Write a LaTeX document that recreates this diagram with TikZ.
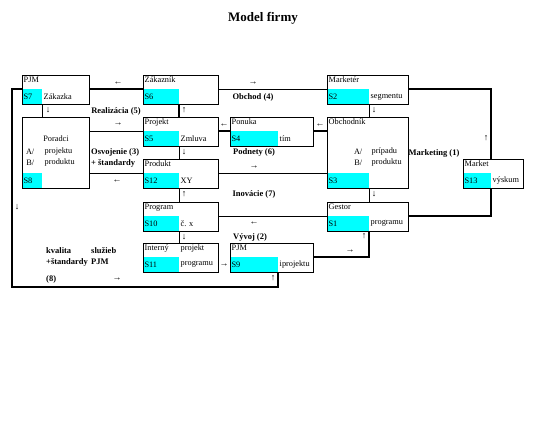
\documentclass[tikz,border=0pt]{standalone}
\usepackage{fontspec}
\setmainfont{Liberation Serif}
\definecolor{cellcyan}{RGB}{0,255,255}
\tikzset{
  box/.style={draw, line width=0.8pt, anchor=south west, minimum height=29,
    inner sep=0pt, outer sep=0pt},
  cell/.style={fill=cellcyan, anchor=south west, minimum height=14.5, inner xsep=1.5pt,
    inner ysep=0pt, outer sep=0pt, align=left, font=\fontsize{8.3}{9}\selectfont},
  lbl/.style={anchor=north west, inner sep=1.5pt, font=\fontsize{8.3}{9}\selectfont},
}

\begin{document}
\begin{tikzpicture}[
  x=1pt, y=-1pt,
  thin line/.style={line width=0.6pt},
  thick line/.style={line width=2pt},
  tag/.style={inner sep=0pt, font=\bfseries\fontsize{8.5}{10}\selectfont},
  arr/.style={inner sep=0pt, font=\fontsize{9}{10}\selectfont}
]
\useasboundingbox (0,0) rectangle (533,446);
\node[font=\bfseries\fontsize{13}{15}\selectfont] (title) at (263,18) {Model firmy};

% row 1
\node[cell, text width=17pt] (c7) at (22,104) {S7};
\node[box, minimum width=67] (s7) at (c7.south west) {};
\node[lbl] (s7t) at (s7.north west) {PJM};
\node[lbl, anchor=west] (s7r) at (c7.east) {Zákazka};

\node[cell, text width=33pt] (c6) at (143,104) {S6};
\node[box, minimum width=75] (s6) at (c6.south west) {};
\node[lbl] (s6t) at (s6.north west) {Zákazník};

\node[cell, text width=39pt] (c2) at (327,104) {S2};
\node[box, minimum width=81] (s2) at (c2.south west) {};
\node[lbl] (s2t) at (s2.north west) {Marketér};
\node[lbl, anchor=west] (s2r) at (c2.east) {segmentu};

% row 2
\node[cell, text width=17pt] (c8) at (22,188) {S8};
\node[box, minimum width=67, minimum height=71] (s8) at (c8.south west) {};
\node[lbl, anchor=center] (s8t) at (56,139) {Poradci};
\node[lbl, anchor=east] (s8a) at (36,152) {A/};
\node[lbl, anchor=west] (s8b) at (43,152) {projektu};
\node[lbl, anchor=east] (s8c) at (36,163) {B/};
\node[lbl, anchor=west] (s8d) at (43,163) {produktu};

\node[cell, text width=33pt] (c5) at (143,146) {S5};
\node[box, minimum width=75] (s5) at (c5.south west) {};
\node[lbl] (s5t) at (s5.north west) {Projekt};
\node[lbl, anchor=west] (s5r) at (c5.east) {Zmluva};

\node[cell, text width=45pt] (c4) at (230,146) {S4};
\node[box, minimum width=83] (s4) at (c4.south west) {};
\node[lbl] (s4t) at (s4.north west) {Ponuka};
\node[lbl, anchor=west] (s4r) at (c4.east) {tím};

\node[cell, text width=39pt] (c3) at (327,188) {S3};
\node[box, minimum width=81, minimum height=71] (s3) at (c3.south west) {};
\node[lbl] (s3t) at (s3.north west) {Obchodník};
\node[lbl, anchor=east] (s3a) at (364,152) {A/};
\node[lbl, anchor=west] (s3b) at (370,152) {prípadu};
\node[lbl, anchor=east] (s3c) at (364,163) {B/};
\node[lbl, anchor=west] (s3d) at (370,163) {produktu};

% row 3
\node[cell, text width=33pt] (c12) at (143,188) {S12};
\node[box, minimum width=75] (s12) at (c12.south west) {};
\node[lbl] (s12t) at (s12.north west) {Produkt};
\node[lbl, anchor=west] (s12r) at (c12.east) {XY};

\node[cell, text width=25pt] (c13) at (463,188) {S13};
\node[box, minimum width=60] (s13) at (c13.south west) {};
\node[lbl] (s13t) at (s13.north west) {Market};
\node[lbl, anchor=west] (s13r) at (c13.east) {výskum};

% row 4
\node[cell, text width=33pt] (c10) at (143,231) {S10};
\node[box, minimum width=75] (s10) at (c10.south west) {};
\node[lbl] (s10t) at (s10.north west) {Program};
\node[lbl, anchor=west] (s10r) at (c10.east) {č. x};

\node[cell, text width=39pt] (c1) at (327,231) {S1};
\node[box, minimum width=81] (s1) at (c1.south west) {};
\node[lbl] (s1t) at (s1.north west) {Gestor};
\node[lbl, anchor=west] (s1r) at (c1.east) {programu};

% row 5
\node[cell, text width=33pt] (c11) at (143,272) {S11};
\node[box, minimum width=75] (s11) at (c11.south west) {};
\node[lbl] (s11t) at (s11.north west) {Interný};
\node[lbl] (s11u) at (c11.north east |- s11.north) {projekt};
\node[lbl, anchor=west] (s11r) at (c11.east) {programu};

\node[cell, text width=45pt] (c9) at (230,272) {S9};
\node[box, minimum width=83] (s9) at (c9.south west) {};
\node[lbl] (s9t) at (s9.north west) {PJM};
\node[lbl, anchor=west] (s9r) at (c9.east) {iprojektu};

% connectors
\draw[thick line] (s7.east) -- (s6.west);
\draw[thin line] (s6.east) -- (s2.west);
\draw[thick line] (s2.east) -| (s13.north -| c13.east);
\draw[thin line] (c7.south east) -- (c7.south east |- s8.north);
\draw[thick line] (c6.south east) -- (c6.south east |- s5.north);
\draw[thin line] (c2.south east) -- (c2.south east |- s3.north);
\draw[thin line] (s8.east |- s5.west) -- (s5.west);
\draw[thick line] (s4.west) -- (s5.east);
\draw[thick line] (s3.west |- s4.east) -- (s4.east);
\draw[thin line] (c5.south east) -- (c5.south east |- s12.north);
\draw[thin line] (s8.east |- s12.west) -- (s12.west);
\draw[thin line] (s12.east) -- (s12.east -| s3.west);
\draw[thin line] (c10.south east |- s10.north) -- (c12.south east);
\draw[thin line] (c3.south east) -- (c3.south east |- s1.north);
\draw[thin line] (s10.east) -- (s1.west);
\draw[thick line] (s1.east) -| (c13.south east);
\draw[thin line] (c10.south east) -- (c10.south east |- s11.north);
\draw[thick line] (s9.east) -| (c1.south east);
\coordinate (loop) at (12,287);
\draw[thick line] (s7.west) -| (loop) -| (c9.south east);

% labels
\node[tag] (l4) at (253,97) {Obchod (4)};
\node[tag] (l5) at (116,111) {Realizácia (5)};
\node[tag, anchor=west] (l3) at (91,152) {Osvojenie (3)};
\node[tag, anchor=west] (l3b) at (91,163) {+ štandardy};
\node[tag] (l6) at (254,152) {Podnety (6)};
\node[tag] (l7) at (254,194) {Inovácie (7)};
\node[tag] (l2) at (250,237) {Vývoj (2)};
\node[tag] (l1) at (434,153) {Marketing (1)};
\node[tag, anchor=west] (l8a) at (46,251) {kvalita};
\node[tag, anchor=west] (l8b) at (91,251) {služieb};
\node[tag, anchor=west] (l8c) at (46,262) {+štandardy};
\node[tag, anchor=west] (l8d) at (91,262) {PJM};
\node[tag, anchor=west] (l8e) at (46,279) {(8)};

% arrow signs
\node[arr] (a1) at (118,83) {←};
\node[arr] (a2) at (253,83) {→};
\node[arr] (a3) at (48,110) {↓};
\node[arr] (a4) at (184,110) {↑};
\node[arr] (a5) at (374,110) {↓};
\node[arr] (a6) at (118,124) {→};
\node[arr] (a7) at (224,125) {←};
\node[arr] (a8) at (320,125) {←};
\node[arr] (a9) at (486,138) {↑};
\node[arr] (a10) at (184,152) {↓};
\node[arr] (a11) at (254,167) {→};
\node[arr] (a12) at (117,181) {←};
\node[arr] (a13) at (184,194) {↑};
\node[arr] (a14) at (374,194) {↓};
\node[arr] (a15) at (17,207) {↓};
\node[arr] (a16) at (254,223) {←};
\node[arr] (a17) at (184,237) {↓};
\node[arr] (a18) at (364,236) {↑};
\node[arr] (a19) at (350,251) {→};
\node[arr] (a20) at (224,265) {→};
\node[arr] (a21) at (273,278) {↑};
\node[arr] (a22) at (117,279) {→};
\end{tikzpicture}
\end{document}
